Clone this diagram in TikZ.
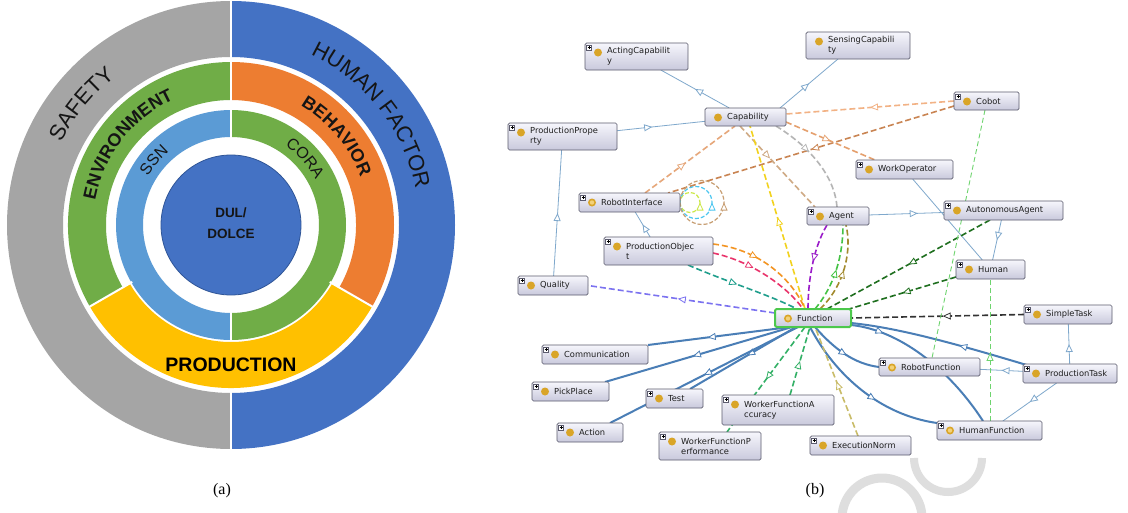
\documentclass[tikz,border=0pt]{standalone}
\usepackage{fontspec}
\setmainfont{Liberation Serif}
\newfontfamily\arialf{Liberation Sans}
\newfontfamily\lucf{DejaVu Sans}
\usetikzlibrary{arrows.meta,decorations.markings,decorations.text,fit,calc}
\pgfdeclarelayer{bg}
\pgfsetlayers{bg,main}
\definecolor{cgray}{HTML}{A5A5A5}
\definecolor{cblue}{HTML}{4472C4}
\definecolor{cgreen}{HTML}{70AD47}
\definecolor{corange}{HTML}{ED7D31}
\definecolor{cyellow}{HTML}{FFC000}
\definecolor{clblue}{HTML}{5B9BD5}
\definecolor{cdark}{HTML}{2F5597}
\definecolor{ringtext}{HTML}{151515}
\definecolor{boxdraw}{HTML}{5C5C6E}
\definecolor{boxtop}{HTML}{F6F6FC}
\definecolor{boxbot}{HTML}{C9C9DC}
\definecolor{txtc}{HTML}{1E1E1E}
\definecolor{gold}{HTML}{D9A528}
\definecolor{ringin}{HTML}{F3D27A}
\definecolor{funcgreen}{HTML}{4CC84C}
\definecolor{thinblue}{HTML}{7FA8CC}
\definecolor{thickblue}{HTML}{4A7EB6}
\definecolor{tanA}{HTML}{E6A77A}
\definecolor{brownB}{HTML}{C98452}
\definecolor{orangeC}{HTML}{F2B285}
\definecolor{orangeD}{HTML}{E5A06E}
\definecolor{tanE}{HTML}{CFAA85}
\definecolor{grayF}{HTML}{B5B5B5}
\definecolor{yellowG}{HTML}{F2D21E}
\definecolor{orangeH}{HTML}{F39422}
\definecolor{pinkI}{HTML}{E9336B}
\definecolor{tealJ}{HTML}{1F9E8C}
\definecolor{purpleK}{HTML}{7B72F0}
\definecolor{violetL}{HTML}{9A1BC9}
\definecolor{greenM}{HTML}{44C244}
\definecolor{oliveN}{HTML}{A38A2E}
\definecolor{dgreenO}{HTML}{1F6F1F}
\definecolor{blackP}{HTML}{333333}
\definecolor{lgreenQ}{HTML}{6ED46E}
\definecolor{greenR}{HTML}{33B066}
\definecolor{execS}{HTML}{C9BC68}
\definecolor{loopyg}{HTML}{CDE84A}
\definecolor{loopcy}{HTML}{4AC6F0}
\definecolor{looptan}{HTML}{C79E72}
\definecolor{wmc}{HTML}{DEDEDE}

\newcommand\ringsec[5]{\fill[#1] ([shift={(231,225)}]#2:#5) arc[start angle=#2,end angle=#3,radius=#5] -- ([shift={(231,225)}]#3:#4) arc[start angle=#3,end angle=#2,radius=#4] -- cycle;}
\newcommand\ontonode[7][]{%
  \node[cls,#1,fit={(#3,#4) (#5,#6)}] (#2) {};
  \node[lbl] (#2-t) at ([xshift=22pt]#2.west) {#7};
  \fill[gold] ([xshift=13pt,yshift=-9.5pt]#2.north west) circle (4pt);
}
\newcommand\plusbox[1]{%
  \draw[draw=boxdraw,fill=white,line width=0.4pt] ([xshift=1.5pt,yshift=-2pt]#1.north west) rectangle ([xshift=6.5pt,yshift=-7pt]#1.north west);
  \draw[line width=0.5pt] ([xshift=2.5pt,yshift=-4.5pt]#1.north west) -- ([xshift=5.5pt,yshift=-4.5pt]#1.north west)
    ([xshift=4pt,yshift=-3pt]#1.north west) -- ([xshift=4pt,yshift=-6pt]#1.north west);
}
\newcommand\ringicon[1]{\fill[ringin] ([xshift=13pt,yshift=-9.5pt]#1.north west) circle (2.2pt);}

\tikzset{
  cls/.style={draw=boxdraw,line width=0.7pt,rounded corners=1.5pt,top color=boxtop,bottom color=boxbot,inner sep=0pt,outer sep=0pt},
  lbl/.style={font=\lucf\fontsize{8.3}{10}\selectfont,text=txtc,inner sep=0pt,align=left,anchor=west},
  thinb/.style={color=thinblue,line width=0.8pt},
  thickb/.style={color=thickblue,line width=2pt},
  dsh/.style={line width=1.6pt,dash pattern=on 6pt off 3pt},
  mida/.style={postaction={decorate,decoration={markings,mark=at position #1 with {\arrow{Triangle[fill=white,line width=0.8pt,length=8pt,width=7pt]}}}}},
  ringtxt/.style={decorate,decoration={text along path,text align=center,text color=ringtext}},
}

\begin{document}
\begin{tikzpicture}[x=1pt,y=-1pt]
\begin{pgfonlayer}{bg}
\fill[white] (0,0) rectangle (1128,512);
\end{pgfonlayer}
\useasboundingbox (0,0) rectangle (1128,512);

% ---------- (a) ring diagram ----------
\ringsec{cgray}{90}{270}{168}{224}
\ringsec{cblue}{-90}{90}{168}{224}
\ringsec{cgreen}{150}{270}{125}{163}
\ringsec{corange}{-90}{30}{125}{163}
\ringsec{cyellow}{30}{150}{117}{163}
\ringsec{clblue}{90}{270}{88}{115}
\ringsec{cgreen}{-90}{90}{88}{115}
\draw[white,line width=2.5pt] (231,0) -- (231,140) (231,310) -- (231,341) (231,389) -- (231,452);
\draw[white,line width=2pt] ([shift={(231,225)}]150:114) -- ([shift={(231,225)}]150:165)
  ([shift={(231,225)}]30:114) -- ([shift={(231,225)}]30:165);
\filldraw[fill=cblue,draw=cdark,line width=0.8pt] (231,225) circle (70);

\path[ringtxt,decoration={text={|\arialf\fontsize{22}{22}\selectfont|HUMAN FACTOR}}]
  ([shift={(231,225)}]-100:188) arc[start angle=-100,end angle=24,radius=188];
\path[ringtxt,decoration={text={|\arialf\fontsize{22}{22}\selectfont|SAFETY}}]
  ([shift={(231,225)}]-200:188) arc[start angle=-200,end angle=-82,radius=188];
\path[ringtxt,decoration={text={|\arialf\bfseries\fontsize{18}{18}\selectfont|ENVIRONMENT}}]
  ([shift={(231,225)}]-210:138) arc[start angle=-210,end angle=-74,radius=138];
\path[ringtxt,decoration={text={|\arialf\bfseries\fontsize{18}{18}\selectfont|BEHAVIOR}}]
  ([shift={(231,225)}]-100:138) arc[start angle=-100,end angle=20,radius=138];
\path[ringtxt,decoration={text={|\arialf\fontsize{16}{16}\selectfont|SSN}}]
  ([shift={(231,225)}]-190:96) arc[start angle=-190,end angle=-90,radius=96];
\path[ringtxt,decoration={text={|\arialf\fontsize{16}{16}\selectfont|CORA}}]
  ([shift={(231,225)}]-92:96) arc[start angle=-92,end angle=8,radius=96];

\node[font=\arialf\bfseries\fontsize{13.5}{21}\selectfont,align=center,text=ringtext] (dul) at (231,223) {DUL/\\DOLCE};
\node[font=\arialf\bfseries\fontsize{19.5}{20}\selectfont,text=black] (prod) at (231,365) {PRODUCTION};

% ---------- (b) ontology graph ----------
\ontonode{acting}{585}{43}{688}{70}{ActingCapabilit\\y}\plusbox{acting}
\ontonode{sensing}{806}{32}{910}{59}{SensingCapabili\\ty}
\ontonode{capab}{705}{108}{786}{126}{Capability}
\ontonode{prodprop}{508}{123}{617}{150}{ProductionPrope\\rty}\plusbox{prodprop}
\ontonode{cobot}{954}{92}{1019}{110}{Cobot}\plusbox{cobot}
\ontonode{robint}{579}{193}{680}{212}{RobotInterface}\plusbox{robint}\ringicon{robint}
\ontonode{workop}{856}{160}{953}{179}{WorkOperator}\plusbox{workop}
\ontonode{agent}{807}{207}{869}{225}{Agent}\plusbox{agent}
\ontonode{auto}{944}{201}{1063}{220}{AutonomousAgent}\plusbox{auto}
\ontonode{prodobj}{604}{237}{713}{265}{ProductionObjec\\t}\plusbox{prodobj}
\ontonode{human}{956}{260}{1025}{279}{Human}\plusbox{human}
\ontonode{quality}{518}{276}{588}{295}{Quality}\plusbox{quality}
\ontonode[draw=funcgreen,line width=2pt]{func}{775}{309}{851}{327}{Function}\ringicon{func}
\ontonode{simple}{1024}{305}{1112}{324}{SimpleTask}\plusbox{simple}
\ontonode{comm}{542}{345}{648}{364}{Communication}\plusbox{comm}
\ontonode{robfun}{879}{358}{980}{376}{RobotFunction}\plusbox{robfun}\ringicon{robfun}
\ontonode{prodtask}{1023}{364}{1117}{383}{ProductionTask}\plusbox{prodtask}
\ontonode{pick}{532}{382}{609}{401}{PickPlace}\plusbox{pick}
\ontonode{test}{646}{389}{703}{408}{Test}\plusbox{test}
\ontonode{wfacc}{722}{395}{834}{425}{WorkerFunctionA\\ccuracy}\plusbox{wfacc}
\ontonode{action}{557}{423}{623}{442}{Action}\plusbox{action}
\ontonode{humfun}{937}{421}{1042}{440}{HumanFunction}\plusbox{humfun}\ringicon{humfun}
\ontonode{wfperf}{659}{432}{761}{460}{WorkerFunctionP\\erformance}\plusbox{wfperf}
\ontonode{execnorm}{810}{436}{911}{455}{ExecutionNorm}\plusbox{execnorm}

\begin{pgfonlayer}{bg}
% thin blue
\draw[thinb,mida=0.5] (capab) -- (acting);
\draw[thinb,mida=0.5] ([xshift=-6pt]capab.north east) -- ([xshift=32pt]sensing.south west);
\draw[thinb,mida=0.4] (prodprop) -- (capab);
\draw[thinb,mida=0.5] (quality) -- (prodprop);
\draw[thinb,mida=0.5] (prodobj) -- (robint);
\draw[thinb,mida=0.65] (agent) -- (auto);
\draw[thinb] (workop) -- (human);
\draw[thinb,mida=0.5] (auto) -- (human);
\draw[thinb,mida=0.5] (prodtask) -- (simple);
\draw[thinb,mida=0.5] (prodtask) -- (robfun);
\draw[thinb,mida=0.5] (prodtask) -- (humfun);
% thick blue
\draw[thickb,mida=0.58] ([xshift=15pt]func.south west) -- (comm.north east);
\draw[thickb,mida=0.53] ([xshift=17pt]func.south west) -- ([xshift=-4pt]pick.north east);
\draw[thickb,mida=0.46] ([xshift=21pt]func.south west) -- ([xshift=-13pt]test.north east);
\draw[thickb,mida=0.5] ([xshift=23pt]func.south west) -- ([xshift=-13pt]action.north east);
\draw[thickb,mida=0.55] ([xshift=40pt]func.south west) .. controls (835,350) and (855,364) .. (robfun.west);
\draw[thickb,mida=0.6] ([xshift=35pt]func.south west) .. controls (835,375) and (880,415) .. ([yshift=-2pt]humfun.north west);
\draw[thickb,mida=0.4] ([xshift=7pt,yshift=-2pt]prodtask.north west) .. controls (960,345) and (900,328) .. ([yshift=4pt]func.south east);
\draw[thickb,mida=0.2] ([yshift=2pt]func.south east) .. controls (900,330) and (950,370) .. ([xshift=46pt]humfun.north west);
% dashed
\draw[dsh,color=tanA,mida=0.45] ([xshift=-35pt]robint.north east) -- ([xshift=30pt]capab.south west);
\draw[dsh,color=brownB,mida=0.5] ([yshift=4pt]cobot.south west) -- ([xshift=-12pt]robint.north east);
\draw[dsh,color=orangeC,mida=0.5] (cobot.west) -- ([yshift=3pt]capab.east);
\draw[dsh,color=orangeD,mida=0.5] ([yshift=4pt]capab.south east) -- ([xshift=19pt]workop.north west);
\draw[dsh,color=tanE,mida=0.4] ([xshift=35pt]capab.south west) -- ([xshift=8pt]agent.north west);
\draw[dsh,color=grayF,mida=0.4] ([xshift=-10pt]capab.south east) .. controls (815,150) and (835,180) .. ([xshift=30pt]agent.north west);
\draw[dsh,color=yellowG,mida=0.5] ([xshift=30pt]func.north west) -- ([xshift=45pt]capab.south west);
\draw[dsh,color=loopyg,line width=1.2pt,dash pattern=on 4pt off 2pt,mida=0.5] (robint.east) arc[start angle=180,end angle=-180,radius=10];
\draw[dsh,color=loopcy,line width=1.2pt,dash pattern=on 4pt off 2pt,mida=0.5] (robint.east) arc[start angle=180,end angle=-180,radius=16];
\draw[dsh,color=looptan,line width=1.2pt,dash pattern=on 4pt off 2pt,mida=0.5] (robint.east) arc[start angle=180,end angle=-180,radius=22];
\draw[dsh,color=orangeH,mida=0.4] ([yshift=-7pt]prodobj.north east) .. controls (765,250) and (795,285) .. ([xshift=30pt]func.north west);
\draw[dsh,color=pinkI,mida=0.4] ([yshift=-16pt]prodobj.north east) .. controls (755,262) and (790,290) .. ([xshift=28pt]func.north west);
\draw[dsh,color=tealJ,mida=0.45] ([xshift=-25pt]prodobj.south east) .. controls (730,283) and (770,295) .. ([xshift=22pt]func.north west);
\draw[dsh,color=purpleK,mida=0.52] ([yshift=5pt]func.west) -- (quality.east);
\draw[dsh,color=violetL,mida=0.45] ([xshift=20pt]agent.south west) .. controls (812,250) and (808,285) .. ([xshift=33pt]func.north west);
\draw[dsh,color=greenM,mida=0.5] ([xshift=40pt]func.north west) .. controls (835,285) and (843,255) .. ([xshift=36pt]agent.south west);
\draw[dsh,color=oliveN,mida=0.5] ([xshift=45pt]func.north west) .. controls (845,285) and (852,250) .. ([xshift=39pt]agent.south west);
\draw[dsh,color=dgreenO,mida=0.5] ([xshift=46pt]auto.south west) -- ([xshift=52pt]func.north west);
\draw[dsh,color=dgreenO,mida=0.5] ([yshift=2pt]human.south west) -- ([xshift=-2pt]func.north east);
\draw[dsh,color=blackP,mida=0.47] (simple.west) -- (func.east);
\draw[color=lgreenQ,line width=0.9pt,dash pattern=on 5pt off 3pt] ([xshift=31pt]cobot.south west) -- ([xshift=53pt]robfun.north west);
\draw[color=lgreenQ,line width=0.9pt,dash pattern=on 5pt off 3pt,mida=0.48] ([xshift=53pt]humfun.north west) -- ([xshift=34pt]human.south west);
\draw[dsh,color=greenR,mida=0.5] ([xshift=68pt]wfacc.north west) -- ([xshift=35pt]func.south west);
\draw[dsh,color=greenR,mida=0.5] ([xshift=30pt]func.south west) -- ([xshift=68pt]wfperf.north west);
\draw[dsh,color=execS,mida=0.5] ([xshift=48pt]execnorm.north west) -- ([xshift=40pt]func.south west);
% watermark
\draw[wmc,line width=9pt] ([shift={(882,518)}]180:40) arc[start angle=180,end angle=360,radius=40];
\draw[wmc,line width=8pt] ([shift={(948,458)}]0:34) arc[start angle=0,end angle=180,radius=34];
\end{pgfonlayer}

\node[font=\fontsize{16}{18}\selectfont] (capA) at (222,491) {(a)};
\node[font=\fontsize{16}{18}\selectfont] (capB) at (815,491) {(b)};
\end{tikzpicture}
\end{document}
